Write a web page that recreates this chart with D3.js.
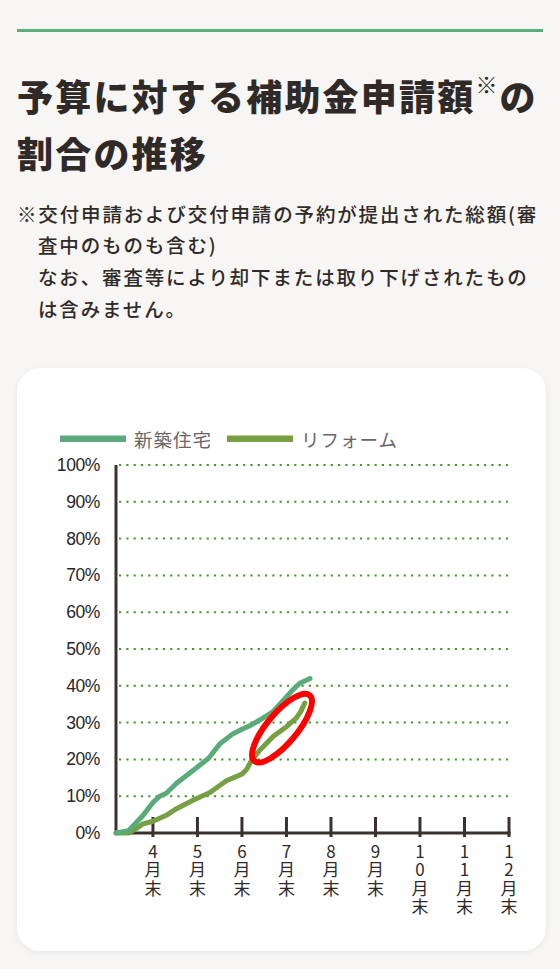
<!DOCTYPE html>
<html><head><meta charset="utf-8">
<script src="https://cdn.jsdelivr.net/npm/d3@7"></script>
<style>
html,body{margin:0;padding:0;background:#f7f6f4;}
svg{display:block;}
.xl{writing-mode:vertical-rl;text-orientation:upright;}
</style></head>
<body>
<svg id="c" width="560" height="969"></svg>
<script>
// ---- data ----
const titleLines = ["予算に対する補助金申請額", "割合の推移"];
const noteLines = ["※交付申請および交付申請の予約が提出された総額(審", "査中のものも含む)", "なお、審査等により却下または取り下げされたもの", "は含みません。"];
const seriesNames = ["新築住宅", "リフォーム"];
const monthTicks = [4,5,6,7,8,9,10,11,12];
const yTicks = [0,10,20,30,40,50,60,70,80,90,100];
const newBuildMonths = [3.17,3.45,3.6,3.78,4.0,4.15,4.3,4.53,4.9,5.25,5.5,5.8,6.0,6.2,6.4,6.7,6.85,7.0,7.15,7.3,7.53];
const newBuildValues = [0,0.6,2.5,4.8,8.3,10,10.8,13.5,17,20.3,24.2,27,28.2,29.3,30.7,33,35,37,39,40.7,42];
const reformMonths = [3.17,3.45,3.6,3.78,4.0,4.3,4.53,4.9,5.28,5.65,6.0,6.1,6.21,6.4,6.7,7.0,7.22,7.32,7.41];
const reformValues = [0,0,1,2.5,3.2,4.8,6.6,8.9,11,14.2,16,17.2,19.6,22.5,26.2,28.9,31.2,33,35.3];
const highlight = {month:6.9, value:28.5};

const colNew = "#5aab79", colRef = "#76a043", ink = "#2f2a28", axisCol = "#3a3131";
const jp = "'Noto Sans CJK JP','Noto Sans',sans-serif";

const svg = d3.select("#c");
// top rule
svg.append("rect").attr("x",17).attr("y",29).attr("width",526).attr("height",3).attr("fill","#5aae7c");

// title
const t1 = svg.append("text").attr("x",17).attr("y",95).attr("dominant-baseline","central")
  .attr("font-family",jp).attr("font-weight",900).attr("font-size",36).attr("letter-spacing",2.2).attr("fill",ink);
t1.append("tspan").text(titleLines[0]);
t1.append("tspan").attr("font-size",22).attr("dy",-12).attr("letter-spacing",0).text("※");
t1.append("tspan").attr("dy",12).attr("dx",2).text("の");
svg.append("text").attr("x",17).attr("y",152).attr("dominant-baseline","central")
  .attr("font-family",jp).attr("font-weight",900).attr("font-size",36).attr("letter-spacing",2.2).attr("fill",ink)
  .text(titleLines[1]);

// note
noteLines.forEach((s,i)=>{
  svg.append("text").attr("x", i===0?17:38).attr("y",213+i*31.8).attr("dominant-baseline","central")
    .attr("font-family",jp).attr("font-weight",500).attr("font-size",19.5).attr("letter-spacing",1.85).attr("fill",ink).text(s);
});

// card
const defs = svg.append("defs");
const f = defs.append("filter").attr("id","sh").attr("x","-10%").attr("y","-10%").attr("width","120%").attr("height","120%");
f.append("feDropShadow").attr("dx",0).attr("dy",2).attr("stdDeviation",3).attr("flood-color","#000").attr("flood-opacity",0.06);
svg.append("rect").attr("x",17).attr("y",368).attr("width",529).attr("height",583).attr("rx",24)
  .attr("fill","#fff").attr("filter","url(#sh)");

// scales
const x = d3.scaleLinear().domain([3.17,12]).range([116,509]);
const y = d3.scaleLinear().domain([0,100]).range([833,465]);

// grid
const g = svg.append("g");
g.selectAll("line.grid").data(yTicks.filter(d=>d>0)).join("line")
  .attr("x1",119).attr("x2",508).attr("y1",d=>y(d)).attr("y2",d=>y(d))
  .attr("stroke","#44992a").attr("stroke-width",2).attr("stroke-dasharray","2.2 5.1");

// y labels
g.selectAll("text.yl").data(yTicks).join("text")
  .attr("x",100).attr("y",d=>y(d)).attr("text-anchor","end").attr("dominant-baseline","central")
  .attr("font-family","'Liberation Sans',Arial,sans-serif").attr("font-size",17.5).attr("letter-spacing",-0.4)
  .attr("fill","#2a2626").text(d=>d+"%");

// axes
g.append("line").attr("x1",116).attr("x2",116).attr("y1",y(100)).attr("y2",y(0)+1.5)
  .attr("stroke",axisCol).attr("stroke-width",3);
g.append("line").attr("x1",114.5).attr("x2",x(12)+1.5).attr("y1",y(0)).attr("y2",y(0))
  .attr("stroke",axisCol).attr("stroke-width",3);
g.selectAll("line.tk").data(monthTicks).join("line")
  .attr("x1",d=>x(d)).attr("x2",d=>x(d)).attr("y1",y(0)-16).attr("y2",y(0)+4)
  .attr("stroke",axisCol).attr("stroke-width",3);

// x labels (vertical, one text per tick)
g.selectAll("text.xl").data(monthTicks).join("text").attr("class","xl")
  .attr("x",d=>x(d)).attr("y",843)
  .attr("font-family",jp).attr("font-size",17).attr("letter-spacing",1.3).attr("fill","#2f2a28")
  .text(d=>String(d)+"月末");

// lines
const line = d3.line().x(d=>x(d[0])).y(d=>y(d[1])).curve(d3.curveLinear);
const nb = newBuildMonths.map((m,i)=>[m,newBuildValues[i]]);
const rf = reformMonths.map((m,i)=>[m,reformValues[i]]);
g.append("path").attr("d",line(rf)).attr("fill","none").attr("stroke",colRef).attr("stroke-width",5)
  .attr("stroke-linejoin","round").attr("stroke-linecap","round");
g.append("path").attr("d",line(nb)).attr("fill","none").attr("stroke",colNew).attr("stroke-width",5)
  .attr("stroke-linejoin","round").attr("stroke-linecap","round");

// highlight ellipse
g.append("ellipse").attr("cx",x(highlight.month)).attr("cy",y(highlight.value)).attr("rx",43).attr("ry",15)
  .attr("transform",`rotate(-50 ${x(highlight.month)} ${y(highlight.value)})`)
  .attr("fill","none").attr("stroke","#f00").attr("stroke-width",6);

// legend
const leg = [{n:seriesNames[0],c:colNew,x:60},{n:seriesNames[1],c:colRef,x:227}];
leg.forEach(l=>{
  svg.append("rect").attr("x",l.x).attr("y",435.5).attr("width",66).attr("height",6.5).attr("fill",l.c);
  svg.append("text").attr("x",l.x+74).attr("y",439).attr("dominant-baseline","central")
    .attr("font-family",jp).attr("font-size",18.5).attr("letter-spacing",1).attr("fill","#666").text(l.n);
});
</script>
</body></html>
